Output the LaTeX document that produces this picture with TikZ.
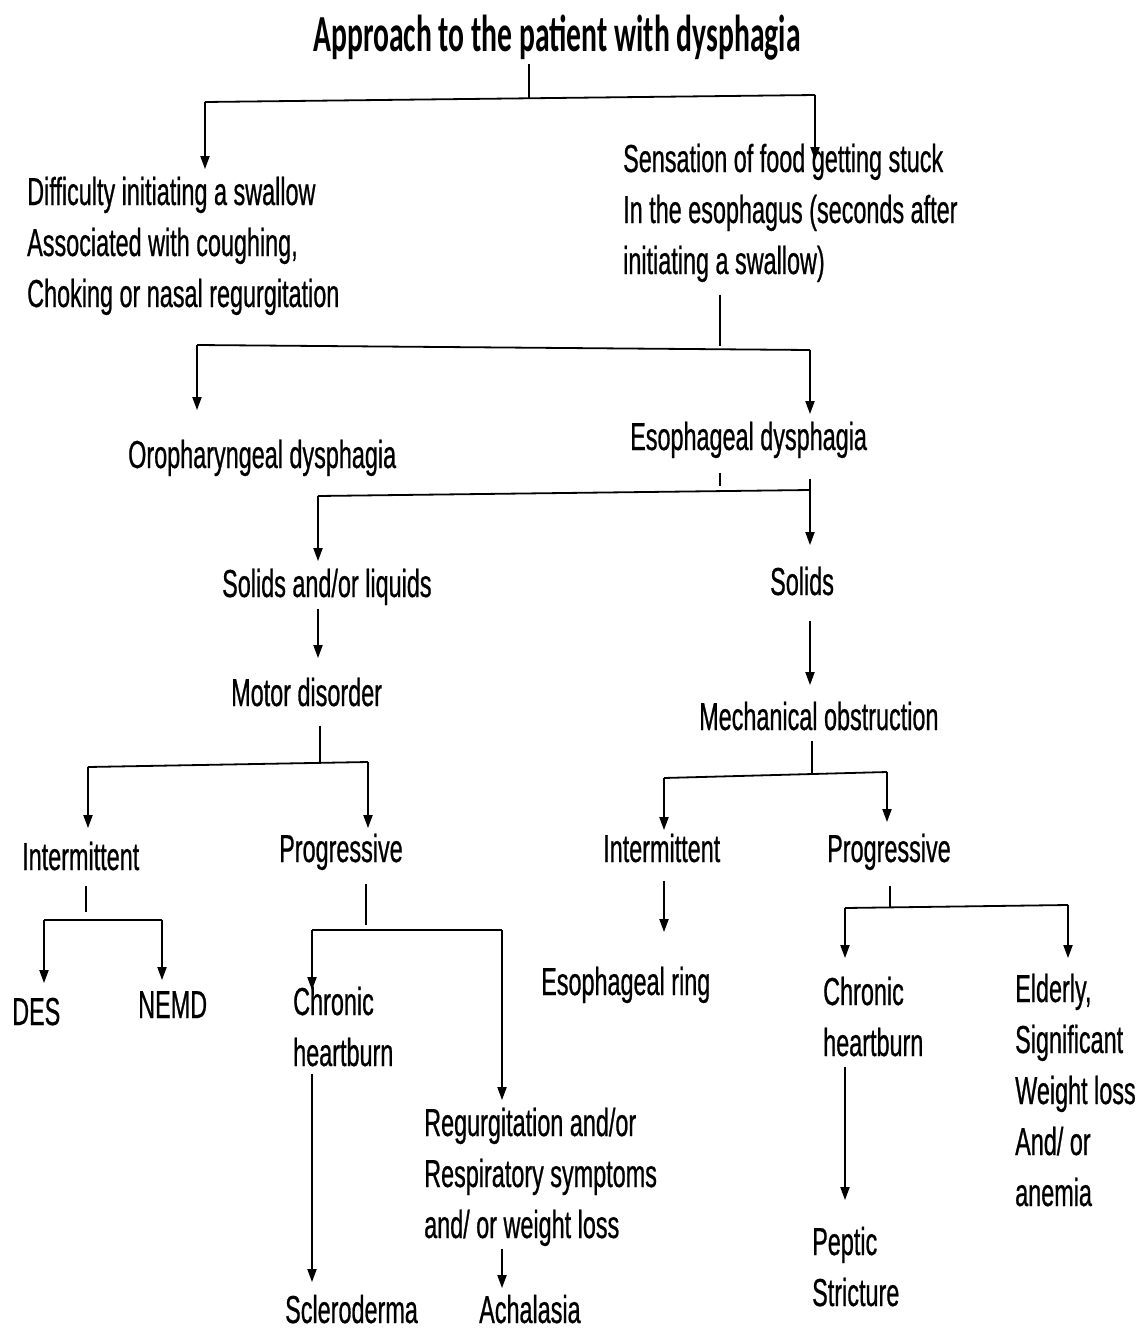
\documentclass[tikz,border=0pt]{standalone}
\usepackage{fontspec}
\newfontfamily\bodyf[FakeStretch=0.6,FakeBold=0.6]{Liberation Sans}
\newfontfamily\titlef[FakeStretch=0.57]{Carlito}
\usetikzlibrary{arrows.meta}
\newcommand{\ml}[1]{\begin{tabular}[t]{@{}l@{}}#1\end{tabular}}
\begin{document}
\begin{tikzpicture}[x=1pt,y=-1pt,
  txt/.style={anchor=base west, inner sep=0pt, font=\bodyf\fontsize{39}{51}\selectfont},
  ttl/.style={anchor=base, inner sep=0pt, font=\titlef\bfseries\fontsize{52}{60}\selectfont},
  ln/.style={line width=1.8pt},
  arr/.style={ln, -{Triangle[length=13pt,width=9pt]}}]
\useasboundingbox (0,0) rectangle (1141,1330);

% nodes
\node[ttl] (title) at (557,52) {Approach to the patient with dysphagia};
\node[txt] (diff) at (27,205) {\ml{Difficulty initiating a swallow\\Associated with coughing,\\Choking or nasal regurgitation}};
\node[txt] (sens) at (623,172) {\ml{Sensation of food getting stuck\\In the esophagus (seconds after\\initiating a swallow)}};
\node[txt] (oro) at (128,468) {\ml{Oropharyngeal dysphagia}};
\node[txt] (eso) at (630,450) {\ml{Esophageal dysphagia}};
\node[txt] (sol1) at (222,597) {\ml{Solids and/or liquids}};
\node[txt] (sol2) at (770,595) {\ml{Solids}};
\node[txt] (motor) at (231,706) {\ml{Motor disorder}};
\node[txt] (mech) at (699,730) {\ml{Mechanical obstruction}};
\node[txt] (int1) at (22,870) {\ml{Intermittent}};
\node[txt] (prog1) at (279,862) {\ml{Progressive}};
\node[txt] (des) at (12,1025) {\ml{DES}};
\node[txt] (nemd) at (138,1018) {\ml{NEMD}};
\node[txt] (chr1) at (293,1015) {\ml{Chronic\\heartburn}};
\node[txt] (regu) at (424,1136) {\ml{Regurgitation and/or\\Respiratory symptoms\\and/ or weight loss}};
\node[txt] (scl) at (285,1323) {\ml{Scleroderma}};
\node[txt] (ach) at (479,1323) {\ml{Achalasia}};
\node[txt] (int2) at (603,862) {\ml{Intermittent}};
\node[txt] (prog2) at (827,862) {\ml{Progressive}};
\node[txt] (ring) at (541,995) {\ml{Esophageal ring}};
\node[txt] (chr2) at (823,1005) {\ml{Chronic\\heartburn}};
\node[txt] (pep) at (812,1255) {\ml{Peptic\\Stricture}};
\node[txt] (eld) at (1015,1002) {\ml{Elderly,\\Significant\\Weight loss\\And/ or\\anemia}};

% level 1
\coordinate (b1l) at (205,102);
\coordinate (b1r) at (815,95);
\coordinate (b1m) at (529,99);
\draw[ln] ([yshift=-12pt]title.base -| b1m) -- (b1m);
\draw[ln] (b1l) -- (b1r);
\draw[arr] (b1l) -- (diff.north -| b1l);
\draw[arr] (b1r) -- ([yshift=-24pt]sens.north -| b1r);

% level 2
\coordinate (b2l) at (197,345);
\coordinate (b2r) at (810,350);
\coordinate (b2m) at (720,346);
\draw[ln] ([yshift=-5pt]sens.south -| b2m) -- (b2m);
\draw[ln] (b2l) -- (b2r);
\draw[arr] (b2l) -- ([yshift=22pt]oro.north -| b2l);
\draw[arr] (b2r) -- (eso.north -| b2r);

% level 3
\coordinate (b3l) at (318,496);
\coordinate (b3r) at (810,490);
\coordinate (b3m) at (720,486);
\draw[ln] ([yshift=-7pt]eso.south -| b3m) -- (b3m);
\draw[ln] (b3l) -- (b3r);
\draw[arr] (b3l) -- (sol1.north -| b3l);
\draw[arr] ([yshift=-13pt]eso.south -| b3r) -- ([yshift=14pt]sol2.north -| b3r);

% solids
\draw[arr] ([yshift=4pt]sol1.south -| b3l) -- ([yshift=12pt]motor.north -| b3l);
\draw[arr] ([yshift=-10pt]sol2.south -| b3r) -- ([yshift=9pt]mech.north -| b3r);

% motor disorder
\coordinate (b4l) at (88,767);
\coordinate (b4r) at (368,762);
\coordinate (b4m) at (320,763);
\draw[ln] ([yshift=-4pt]motor.south -| b4m) -- (b4m);
\draw[ln] (b4l) -- (b4r);
\draw[arr] (b4l) -- ([yshift=6pt]int1.north -| b4l);
\draw[arr] (b4r) -- ([yshift=-2pt]prog1.north -| b4r);

% intermittent (motor)
\coordinate (b5l) at (44,920);
\coordinate (b5r) at (162,920);
\coordinate (b5m) at (86,920);
\draw[ln] (int1.south -| b5m) -- ([yshift=8pt]b5m);
\draw[ln] (b5l) -- (b5r);
\draw[arr] (b5l) -- ([yshift=6pt]des.north -| b5l);
\draw[arr] (b5r) -- ([yshift=2pt]nemd.north -| b5r);

% progressive (motor)
\coordinate (b6l) at (312,930);
\coordinate (b6r) at (502,930);
\coordinate (b6m) at (366,930);
\draw[ln] ([yshift=-6pt]prog1.south -| b6m) -- ([yshift=5pt]b6m);
\draw[ln] (b6l) -- (b6r);
\draw[arr] (b6l) -- ([yshift=-11pt]chr1.north -| b6l);
\draw[arr] (b6r) -- (regu.north -| b6r);
\draw[arr] ([yshift=8pt]chr1.south -| b6l) -- ([yshift=5pt]scl.north -| b6l);
\draw[arr] ([yshift=5pt]regu.south -| b6r) -- ([yshift=-1pt]ach.north -| b6r);

% mechanical obstruction
\coordinate (b7l) at (664,778);
\coordinate (b7r) at (887,772);
\coordinate (b7m) at (812,774);
\draw[ln] ([yshift=5pt]mech.south -| b7m) -- (b7m);
\draw[ln] (b7l) -- (b7r);
\draw[arr] (b7l) -- ([yshift=-4pt]int2.north -| b7l);
\draw[arr] (b7r) -- ([yshift=4pt]prog2.north -| b7r);
\draw[arr] ([yshift=-3pt]int2.south -| b7l) -- ([yshift=27pt]ring.north -| b7l);

% progressive (mechanical)
\coordinate (b8l) at (845,908);
\coordinate (b8r) at (1068,905);
\coordinate (b8m) at (890,907);
\draw[ln] ([yshift=-8pt]prog2.south -| b8m) -- (b8m);
\draw[ln] (b8l) -- (b8r);
\draw[arr] (b8l) -- ([yshift=11pt]chr2.north -| b8l);
\draw[arr] (b8r) -- ([yshift=8pt]eld.north -| b8r);
\draw[arr] ([yshift=5pt]chr2.south -| b8l) -- ([yshift=19pt]pep.north -| b8l);
\end{tikzpicture}
\end{document}
